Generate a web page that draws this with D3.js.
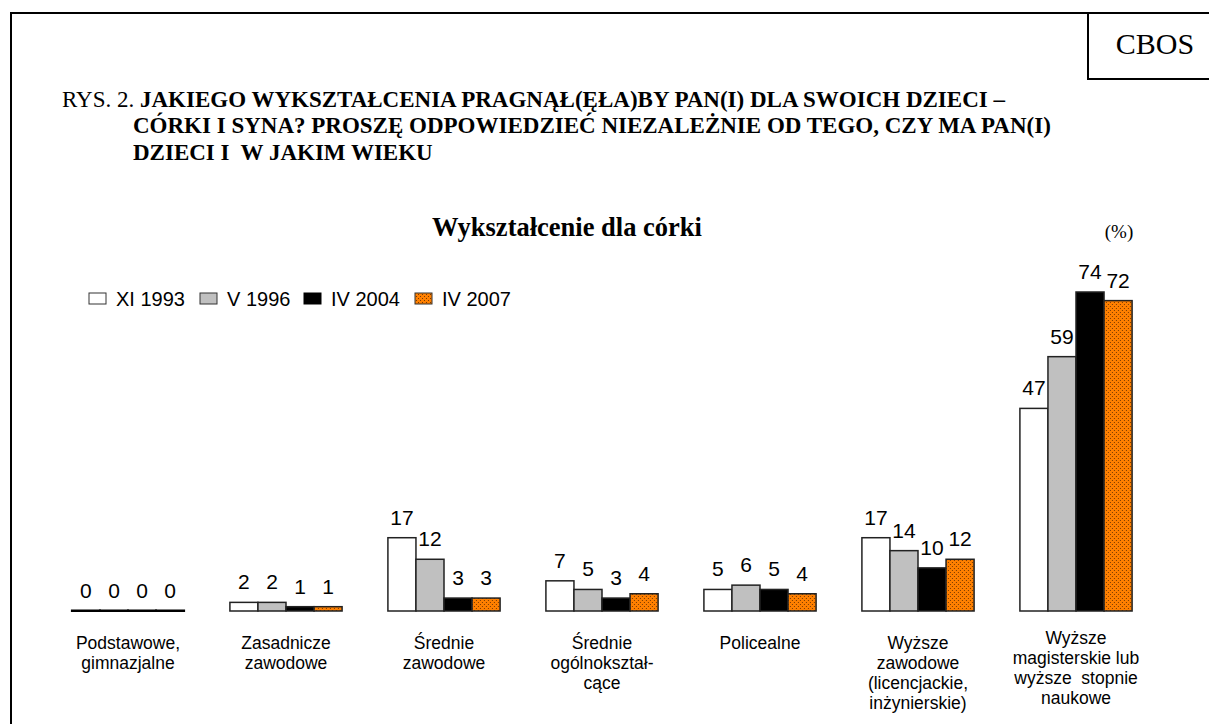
<!DOCTYPE html>
<html>
<head>
<meta charset="utf-8">
<script src="https://cdn.jsdelivr.net/npm/d3@7"></script>
<style>
  body { margin: 0; background: #fff; }
  svg { display: block; }
</style>
</head>
<body>
<svg id="chart" width="1209" height="724"></svg>
<script>
// ----------------------------
// Data
// ----------------------------
const categories = [
  ["Podstawowe,", "gimnazjalne"],
  ["Zasadnicze", "zawodowe"],
  ["Średnie", "zawodowe"],
  ["Średnie", "ogólnokształ-", "cące"],
  ["Policealne"],
  ["Wyższe", "zawodowe", "(licencjackie,", "inżynierskie)"],
  ["Wyższe", "magisterskie lub", "wyższe  stopnie", "naukowe"]
];
const seriesNames = ["XI 1993", "V 1996", "IV 2004", "IV 2007"];
const s1993 = [0, 2, 17, 7, 5, 17, 47];
const s1996 = [0, 2, 12, 5, 6, 14, 59];
const s2004 = [0, 1, 3, 3, 5, 10, 74];
const s2007 = [0, 1, 3, 4, 4, 12, 72];
const series = [s1993, s1996, s2004, s2007];

const titleLines = [
  "JAKIEGO WYKSZTAŁCENIA PRAGNĄŁ(ĘŁA)BY PAN(I) DLA SWOICH DZIECI –",
  "CÓRKI I SYNA? PROSZĘ ODPOWIEDZIEĆ NIEZALEŻNIE OD TEGO, CZY MA PAN(I)",
  "DZIECI I  W JAKIM WIEKU"
];

// ----------------------------
// Setup
// ----------------------------
const serif = "'Liberation Serif', 'Times New Roman', serif";
const sans = "'Liberation Sans', Arial, sans-serif";
const svg = d3.select("#chart");
const fills = ["#ffffff", "#c0c0c0", "#000000", "url(#dots)"];

const defs = svg.append("defs");
const pat = defs.append("pattern")
  .attr("id", "dots")
  .attr("patternUnits", "userSpaceOnUse")
  .attr("width", 4).attr("height", 4);
pat.append("rect").attr("width", 4).attr("height", 4).attr("fill", "#ff8000");
pat.append("rect").attr("x", 0).attr("y", 0).attr("width", 1).attr("height", 1).attr("fill", "#7a3a00");
pat.append("rect").attr("x", 2).attr("y", 2).attr("width", 1).attr("height", 1).attr("fill", "#7a3a00");

// frame
svg.append("path")
  .attr("d", "M11,724 V13 H1209")
  .attr("fill", "none").attr("stroke", "#000").attr("stroke-width", 2);
svg.append("path")
  .attr("d", "M1088,13 V79 H1209")
  .attr("fill", "none").attr("stroke", "#000").attr("stroke-width", 2);
svg.append("text")
  .attr("x", 1155).attr("y", 54)
  .attr("text-anchor", "middle")
  .attr("font-family", serif).attr("font-size", 30)
  .text("CBOS");

// title
const title = svg.append("g").attr("font-family", serif).attr("font-size", 23);
const t1 = title.append("text").attr("x", 62).attr("y", 107);
t1.append("tspan").text("RYS. 2. ");
t1.append("tspan").attr("font-weight", "bold").text(titleLines[0]);
titleLines.slice(1).forEach((s, i) => {
  title.append("text")
    .attr("xml:space", "preserve")
    .attr("x", 133).attr("y", 133 + i * 27)
    .attr("font-weight", "bold")
    .text(s);
});

svg.append("text")
  .attr("x", 567).attr("y", 236)
  .attr("text-anchor", "middle")
  .attr("font-family", serif).attr("font-size", 26.5).attr("font-weight", "bold")
  .text("Wykształcenie dla córki");
svg.append("text")
  .attr("x", 1119).attr("y", 238)
  .attr("text-anchor", "middle")
  .attr("font-family", serif).attr("font-size", 19)
  .text("(%)");

// ----------------------------
// Legend
// ----------------------------
const legendX = [89, 200, 304, 415];
const legend = svg.append("g").attr("font-family", sans).attr("font-size", 20);
seriesNames.forEach((name, i) => {
  legend.append("rect")
    .attr("x", legendX[i]).attr("y", 293)
    .attr("width", 17).attr("height", 11)
    .attr("fill", fills[i])
    .attr("stroke", i === 2 ? "#000" : "#333").attr("stroke-width", 1);
  legend.append("text")
    .attr("x", legendX[i] + 27).attr("y", 306)
    .text(name);
});

// ----------------------------
// Bars
// ----------------------------
const baseY = 611;
const x0 = d3.scaleBand().domain(d3.range(categories.length)).range([49, 1155]).paddingInner(0.29).paddingOuter(0.145);
const x1 = d3.scaleBand().domain(d3.range(series.length)).range([0, x0.bandwidth()]);
const y = d3.scaleLinear().domain([0, 74]).range([baseY, 292]);

const groups = svg.append("g").selectAll("g")
  .data(categories)
  .join("g")
  .attr("transform", (d, i) => `translate(${x0(i)},0)`);

groups.each(function(cat, ci) {
  const g = d3.select(this);
  series.forEach((vals, si) => {
    const v = vals[ci];
    const h = Math.max(baseY - y(v), 0.5);
    g.append("rect")
      .attr("x", x1(si))
      .attr("y", baseY - h)
      .attr("width", x1.bandwidth())
      .attr("height", h)
      .attr("fill", fills[si])
      .attr("stroke", v === 0 ? "#000" : "#222")
      .attr("stroke-width", v === 0 ? 2 : 1.5);
    g.append("text")
      .attr("x", x1(si) + x1.bandwidth() / 2)
      .attr("y", y(v) - 13)
      .attr("text-anchor", "middle")
      .attr("font-family", sans).attr("font-size", 21)
      .text(v);
  });
  const shift = ci === categories.length - 1 ? -5 : 0;
  const lab = g.append("text")
    .attr("xml:space", "preserve")
    .attr("text-anchor", "middle")
    .attr("font-family", sans).attr("font-size", 17.5);
  cat.forEach((line, li) => {
    lab.append("tspan")
      .attr("x", x0.bandwidth() / 2)
      .attr("y", 649 + shift + li * 20)
      .text(line);
  });
});
</script>
</body>
</html>
